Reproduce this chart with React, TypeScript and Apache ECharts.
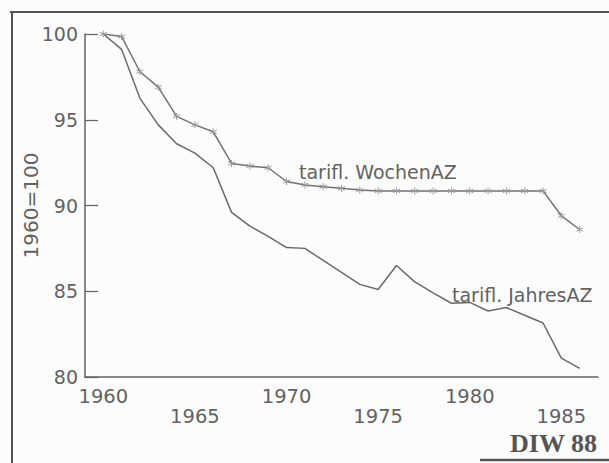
import React, { useEffect, useRef } from "react";
import * as echarts from "echarts";

const years = [1960, 1961, 1962, 1963, 1964, 1965, 1966, 1967, 1968, 1969, 1970, 1971, 1972, 1973, 1974, 1975, 1976, 1977, 1978, 1979, 1980, 1981, 1982, 1983, 1984, 1985, 1986];
const wochenAZ = [100, 99.85, 97.8, 96.9, 95.2, 94.7, 94.3, 92.45, 92.3, 92.2, 91.4, 91.2, 91.1, 91.0, 90.9, 90.85, 90.85, 90.85, 90.85, 90.85, 90.85, 90.85, 90.85, 90.85, 90.85, 89.4, 88.6];
const jahresAZ = [100, 99.1, 96.25, 94.7, 93.6, 93.05, 92.2, 89.6, 88.8, 88.2, 87.55, 87.5, 86.8, 86.1, 85.4, 85.1, 86.5, 85.55, 84.9, 84.3, 84.35, 83.85, 84.05, 83.6, 83.15, 81.1, 80.5];
const xTickLabels = [1960, 1965, 1970, 1975, 1980, 1985];
const yTickLabels = [80, 85, 90, 95, 100];
const seriesNames = ["tarifl. WochenAZ", "tarifl. JahresAZ"];
const yAxisTitle = "1960=100";
const sourceNote = "DIW 88";

const FONT = "'DejaVu Sans', sans-serif";
const INK = "#626262";

export default function App() {
  const ref = useRef<HTMLDivElement>(null);
  useEffect(() => {
    if (!ref.current) return;
    const chart = echarts.init(ref.current, null, { renderer: "svg" });
    const star = "path://M0,-4L0,4M-3.5,-2L3.5,2M-3.5,2L3.5,-2";
    chart.setOption({
      animation: false,
      backgroundColor: "#fcfcfc",
      grid: { left: 85, right: 11, top: 34, bottom: 86 },
      xAxis: {
        type: "value",
        min: 1959,
        max: 1987,
        axisLine: { show: true, lineStyle: { color: INK, width: 1.5 } },
        axisTick: { show: false },
        splitLine: { show: false },
        axisLabel: {
          customValues: xTickLabels,
          color: INK,
          fontFamily: FONT,
          fontSize: 19.5,
          lineHeight: 20,
          margin: 9,
          formatter: (v: number) => (v % 10 === 5 ? "\n" + v : String(v)),
        },
      },
      yAxis: {
        type: "value",
        min: 80,
        max: 100,
        interval: 5,
        name: yAxisTitle,
        nameLocation: "middle",
        nameGap: 44,
        nameMoveOverlap: false,
        nameTextStyle: { color: INK, fontFamily: FONT, fontSize: 20 },
        axisLine: { show: true, lineStyle: { color: INK, width: 1.5 } },
        axisTick: { show: true, inside: true, length: 13, lineStyle: { color: INK, width: 1.2 } },
        splitLine: { show: false },
        axisLabel: {
          color: INK,
          fontFamily: FONT,
          fontSize: 19,
          margin: 7,
          formatter: (v: number) => (yTickLabels.includes(v) ? String(v) : ""),
        },
      },
      series: [
        {
          name: seriesNames[0],
          type: "line",
          data: years.map((y, i) => [y, wochenAZ[i]]),
          symbol: star,
          symbolSize: 7,
          showSymbol: true,
          lineStyle: { color: "#727272", width: 1.5 },
          itemStyle: { color: "none", borderColor: "#9a9a9a", borderWidth: 1 },
        },
        {
          name: seriesNames[1],
          type: "line",
          data: years.map((y, i) => [y, jahresAZ[i]]),
          symbol: "none",
          lineStyle: { color: "#6a6a6a", width: 1.5 },
        },
      ],
      graphic: [
        { type: "line", shape: { x1: 10, y1: 12, x2: 609, y2: 12 }, style: { stroke: "#555", lineWidth: 2 } },
        { type: "line", shape: { x1: 12, y1: 12, x2: 12, y2: 463 }, style: { stroke: "#555", lineWidth: 2 } },
        { type: "line", shape: { x1: 480, y1: 460, x2: 609, y2: 460 }, style: { stroke: "#555", lineWidth: 2.5 } },
        {
          type: "text",
          x: 299,
          y: 172,
          style: { text: seriesNames[0], fill: INK, font: `19px ${FONT}`, textVerticalAlign: "middle" },
        },
        {
          type: "text",
          x: 452,
          y: 295,
          style: { text: seriesNames[1], fill: INK, font: `19px ${FONT}`, textVerticalAlign: "middle" },
        },
        {
          type: "text",
          x: 597,
          y: 443,
          style: {
            text: sourceNote,
            fill: "#555",
            font: `bold 26px 'Liberation Serif', serif`,
            textAlign: "right",
            textVerticalAlign: "middle",
          },
        },
      ],
    });
    return () => chart.dispose();
  }, []);
  return (
    <div
      ref={ref}
      style={{ position: "absolute", left: 0, top: 0, width: 609, height: 463 }}
    />
  );
}
